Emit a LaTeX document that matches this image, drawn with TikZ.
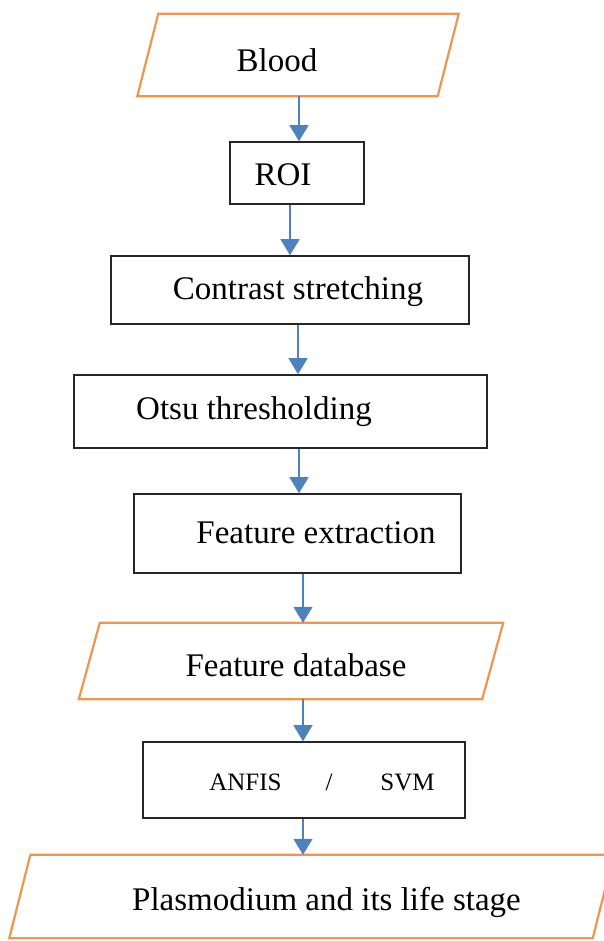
\documentclass[tikz,border=0pt]{standalone}
\usepackage{fontspec}
\setmainfont{Liberation Serif}
\usetikzlibrary{arrows.meta}
\definecolor{ioorange}{RGB}{237,150,80}
\definecolor{flowblue}{RGB}{79,129,189}
\tikzset{
  stepbox/.style={draw=black!85, line width=1.6pt, rectangle, inner sep=0pt},
  iobox/.style={rectangle, inner sep=0pt, append after command={\pgfextra{
    \draw[ioorange, line width=2.2pt, line join=miter]
      ([xshift=10.5pt]\tikzlastnode.north west) -- ([xshift=10.5pt]\tikzlastnode.north east)
      -- ([xshift=-10.5pt]\tikzlastnode.south east) -- ([xshift=-10.5pt]\tikzlastnode.south west) -- cycle;}}},
  flow/.style={draw=flowblue, line width=1.4pt, -{Triangle[width=19pt,length=16pt]}},
  txt/.style={font=\fontsize{33}{39}\selectfont},
}
\begin{document}
\begin{tikzpicture}[x=1pt,y=-1pt]
\useasboundingbox[fill=white] (0,0) rectangle (604,941);
% flow steps
\node[iobox, minimum width=300pt, minimum height=82pt,
  label={[txt, xshift=-21pt, yshift=-5pt]center:Blood}] (blood) at (298,55) {};
\node[stepbox, minimum width=134pt, minimum height=62pt,
  label={[txt, xshift=-14pt, yshift=-2pt]center:ROI}] (roi) at (297,173) {};
\node[stepbox, minimum width=358pt, minimum height=68pt,
  label={[txt, xshift=8pt, yshift=-2pt]center:Contrast stretching}] (contrast) at (290,290) {};
\node[stepbox, minimum width=413pt, minimum height=73pt,
  label={[txt, xshift=-26.5pt]center:Otsu thresholding}] (otsu) at (280.5,411.5) {};
\node[stepbox, minimum width=327pt, minimum height=79pt,
  label={[txt, xshift=18.5pt, yshift=1pt]center:Feature extraction}] (feature) at (297.5,533.5) {};
\node[iobox, minimum width=403pt, minimum height=76pt,
  label={[txt, xshift=5pt, yshift=-4.5pt]center:Feature database}] (database) at (291,661) {};
\node[stepbox, minimum width=322pt, minimum height=76pt,
  label={[font=\fontsize{25}{30}\selectfont, xshift=18pt, yshift=-2pt]center:ANFIS\hspace{44pt}/\hspace{48pt}SVM}] (anfis) at (304,780) {};
\node[iobox, minimum width=583pt, minimum height=83pt,
  label={[txt, xshift=15pt, yshift=-5.5pt]center:Plasmodium and its life stage}] (output) at (311.5,896.5) {};
% arrows
\foreach \a/\b/\dx in {blood/roi/1, roi/contrast/-7, contrast/otsu/8, otsu/feature/18.5,
  feature/database/5.5, database/anfis/12, anfis/output/-1} {
  \draw[flow] ([xshift=\dx pt]\a.south) -- ([xshift=\dx pt]\a.south |- \b.north);
}
\end{tikzpicture}
\end{document}
